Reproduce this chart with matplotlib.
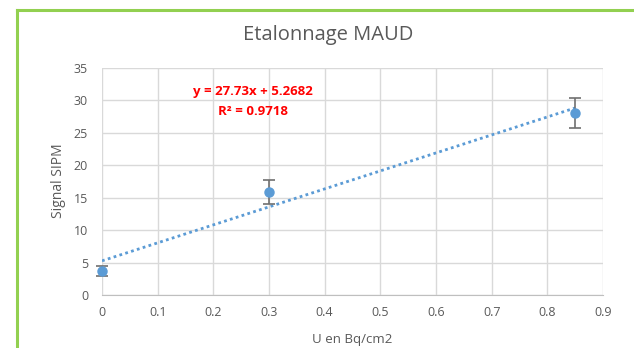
import matplotlib
matplotlib.use("Agg")
import matplotlib.pyplot as plt
import numpy as np
from matplotlib.lines import Line2D

# data
u_bq = [0.0, 0.3, 0.85]
signal = [3.7, 15.9, 28.0]
signal_err = [0.7, 1.8, 2.3]
slope, intercept, r2 = 27.73, 5.2682, 0.9718
x_ticks = [0, 0.1, 0.2, 0.3, 0.4, 0.5, 0.6, 0.7, 0.8, 0.9]
y_ticks = [0, 5, 10, 15, 20, 25, 30, 35]

plt.rcParams["font.family"] = ["Open Sans", "DejaVu Sans"]
BLUE = "#5b9bd5"
GREY = "#595959"

fig = plt.figure(figsize=(6.34, 3.48), dpi=100)
ax = fig.add_axes([102 / 634, 1 - 295 / 348, 501 / 634, 227 / 348])

# trend line (linear fit), from first to last x
xt = np.array([min(u_bq), max(u_bq)])
ax.plot(xt, slope * xt + intercept, ls=(0, (1, 1.2)), color=BLUE, lw=2, zorder=2)

ax.errorbar(u_bq, signal, yerr=signal_err, fmt="o", color=BLUE, ms=6.5,
            ecolor="#707070", elinewidth=1.2, capsize=4, capthick=1.2, zorder=3, clip_on=False)

ax.text(0.271, 31.3, f"y = {slope}x + {intercept}", color="#ff0000", fontweight="bold",
        fontsize=9.5, ha="center", va="center")
ax.text(0.271, 28.3, f"R² = {r2}", color="#ff0000", fontweight="bold",
        fontsize=9.5, ha="center", va="center")

ax.set_xlim(0, 0.9)
ax.set_ylim(0, 35)
ax.set_xticks(x_ticks)
ax.set_xticklabels([f"{t:g}" for t in x_ticks])
ax.set_yticks(y_ticks)
ax.grid(True, color="#d9d9d9", lw=1)
ax.set_axisbelow(True)
for s in ["top", "right", "left"]:
    ax.spines[s].set_visible(False)
ax.spines["bottom"].set_color("#bfbfbf")
ax.tick_params(length=0, labelsize=9, colors=GREY, pad=8)
ax.tick_params(axis="y", pad=10)

fig.text(328 / 634, 1 - 35 / 348, "Etalonnage MAUD", fontsize=14.5, color=GREY,
         ha="center", va="center")
ax.set_xlabel("U en Bq/cm2", fontsize=9.5, color=GREY, labelpad=10)
ax.set_ylabel("Signal SIPM", fontsize=10, color=GREY)
ax.yaxis.set_label_coords(-(102 - 66) / 501, (295 - 181) / 227)

# green chart frame
fig.add_artist(Line2D([17 / 634, 1], [1 - 10 / 348] * 2, color="#92d050", lw=2.2))
fig.add_artist(Line2D([17 / 634] * 2, [0, 1 - 10 / 348], color="#92d050", lw=2.2))

fig.savefig("out.png", dpi=100, facecolor="white")
